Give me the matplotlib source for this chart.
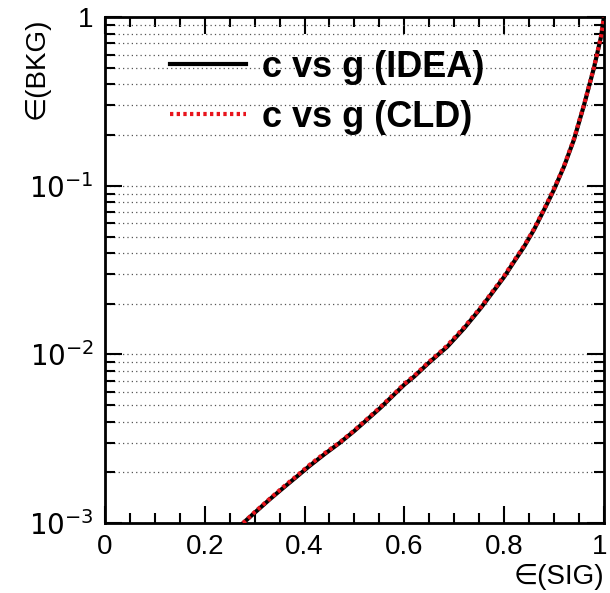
import numpy as np
import matplotlib
matplotlib.use("Agg")
import matplotlib.pyplot as plt
from matplotlib.ticker import FixedLocator, MultipleLocator, LogLocator
import matplotlib.transforms as mtransforms

plt.rcParams['font.family'] = ['Liberation Sans', 'DejaVu Sans']

# ROC curves
sig_idea = [0.277, 0.30, 0.33, 0.36, 0.385, 0.41, 0.44, 0.47, 0.50, 0.53, 0.552,
            0.58, 0.60, 0.62, 0.647, 0.67, 0.686, 0.72, 0.753, 0.78, 0.80, 0.82,
            0.84, 0.86, 0.873, 0.885, 0.90, 0.92, 0.94, 0.96, 0.98, 0.994, 1.0]
bkg_idea = [0.00100, 0.00115, 0.00138, 0.00164, 0.00189, 0.00218, 0.00256, 0.00298,
            0.00352, 0.00422, 0.00482, 0.00580, 0.00662, 0.00740, 0.00880, 0.0101,
            0.0111, 0.0143, 0.0188, 0.0240, 0.0288, 0.0355, 0.0435, 0.0550, 0.0655,
            0.0770, 0.0950, 0.130, 0.188, 0.300, 0.500, 0.760, 1.0]
sig_cld = sig_idea
bkg_cld = [0.00100, 0.00116, 0.00139, 0.00166, 0.00191, 0.00221, 0.00259, 0.00300,
           0.00355, 0.00426, 0.00487, 0.00585, 0.00670, 0.00748, 0.00890, 0.0102,
           0.0113, 0.0145, 0.0190, 0.0243, 0.0292, 0.0360, 0.0440, 0.0556, 0.0662,
           0.0778, 0.0960, 0.131, 0.190, 0.302, 0.503, 0.763, 1.0]
labels = ["c vs g (IDEA)", "c vs g (CLD)"]
xticks = [0, 0.2, 0.4, 0.6, 0.8, 1.0]
xticklabels = ['0', '0.2', '0.4', '0.6', '0.8', '1']
yticks = [1e-3, 1e-2, 1e-1, 1]
yticklabels = [r'$10^{-3}$', r'$10^{-2}$', r'$10^{-1}$', '1']

fig = plt.figure(figsize=(6.10, 5.93), dpi=100)
ax = fig.add_axes([0.172, 0.118, 0.818, 0.853])

ax.plot(sig_idea, bkg_idea, color='black', lw=3, label=labels[0], zorder=3)
ax.plot(sig_cld, bkg_cld, color='#e8141c', lw=3, ls=(0, (0.8, 0.8)), label=labels[1], zorder=4)

ax.set_yscale('log')
ax.set_xlim(0, 1)
ax.set_ylim(1e-3, 1)

ax.xaxis.set_major_locator(FixedLocator(xticks))
ax.set_xticklabels(xticklabels)
ax.xaxis.set_minor_locator(MultipleLocator(0.05))
ax.yaxis.set_major_locator(FixedLocator(yticks))
ax.set_yticklabels(yticklabels)
ax.yaxis.set_minor_locator(LogLocator(base=10, subs=np.arange(2, 10)))

ax.grid(True, which='both', axis='y', color='#555555', ls=(0, (1, 2.5)), lw=0.9)
ax.tick_params(which='both', direction='in', top=True, right=True, labelsize=20, width=1.5)
ax.tick_params(which='major', length=12, pad=8)
ax.tick_params(which='minor', length=7)
for s in ax.spines.values():
    s.set_linewidth(2)

# keep the last x label inside the canvas
last = ax.get_xticklabels()[-1]
last.set_transform(last.get_transform() + mtransforms.ScaledTranslation(-4 / 100, 0, fig.dpi_scale_trans))

fig.text(0.99, 0.027, '∈(SIG)', ha='right', va='center', fontsize=20)
fig.text(0.06, 0.971, '∈(BKG)', ha='center', va='top', rotation=90, fontsize=20)

ax.legend(loc='upper left', bbox_to_anchor=(0.065, 1.0), frameon=False,
          prop={'size': 26, 'weight': 'bold'}, handlelength=2.1, handletextpad=0.45,
          labelspacing=0.42)

fig.savefig('out.png', dpi=100)
